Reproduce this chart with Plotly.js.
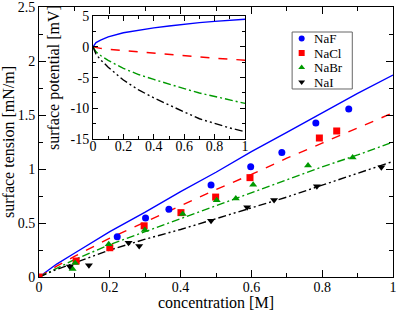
<!DOCTYPE html>
<html>
<head>
<meta charset="utf-8">
<script src="https://cdn.plot.ly/plotly-3.0.1.min.js"></script>
<style>html,body{margin:0;padding:0;background:#fff;}#chart{width:397px;height:311px;}</style>
</head>
<body>
<div id="chart"></div>
<script>
// Measured points (surface tension increment, mN/m) vs concentration (M)
const nafX = [0.221, 0.301, 0.367, 0.486, 0.598, 0.686, 0.782, 0.875];
const nafY = [0.373, 0.546, 0.627, 0.852, 1.02, 1.153, 1.427, 1.556];
const naclX = [0, 0.105, 0.2, 0.297, 0.401, 0.499, 0.596, 0.792, 0.841];
const naclY = [0, 0.148, 0.271, 0.474, 0.596, 0.740, 0.92, 1.287, 1.352];
const nabrX = [0.095, 0.102, 0.197, 0.299, 0.406, 0.502, 0.556, 0.605, 0.760, 0.886];
const nabrY = [0.075, 0.13, 0.303, 0.435, 0.583, 0.71, 0.728, 0.855, 1.032, 1.106];
const naiX = [0.087, 0.141, 0.253, 0.283, 0.486, 0.588, 0.664, 0.785, 0.967];
const naiY = [0.097, 0.108, 0.316, 0.287, 0.52, 0.645, 0.713, 0.84, 1.016];

// Theory curves, main panel
const curveX = [0, 0.02, 0.05, 0.1, 0.2, 0.3, 0.4, 0.5, 0.6, 0.7, 0.8, 0.9, 1];
const nafFit  = [0, 0.05, 0.12, 0.22, 0.42, 0.60, 0.79, 0.97, 1.16, 1.34, 1.52, 1.70, 1.87];
const naclFit = [0, 0.04, 0.10, 0.19, 0.36, 0.51, 0.66, 0.81, 0.95, 1.10, 1.24, 1.38, 1.52];
const nabrFit = [0, 0.035, 0.08, 0.16, 0.30, 0.42, 0.54, 0.66, 0.78, 0.90, 1.02, 1.13, 1.25];
const naiFit  = [0, 0.03, 0.07, 0.13, 0.25, 0.35, 0.44, 0.54, 0.64, 0.74, 0.85, 0.96, 1.07];

// Inset: surface potential (mV)
const insetX = [0, 0.02, 0.05, 0.1, 0.2, 0.3, 0.4, 0.5, 0.6, 0.7, 0.8, 0.9, 1];
const nafPot  = [0, 0.7, 1.1, 1.63, 2.3, 2.75, 3.1, 3.4, 3.7, 3.95, 4.15, 4.35, 4.5];
const naclPot = [0, -0.15, -0.25, -0.38, -0.6, -0.85, -1.05, -1.25, -1.45, -1.65, -1.85, -2.0, -2.17];
const nabrPot = [0, -0.8, -1.4, -2.2, -3.5, -4.5, -5.3, -6.1, -6.8, -7.5, -8.1, -8.7, -9.2];
const naiPot  = [0, -1.2, -2.1, -3.3, -5.4, -7.0, -8.3, -9.5, -10.6, -11.7, -12.5, -13.2, -13.8];

const names = ['NaF', 'NaCl', 'NaBr', 'NaI'];
const mainTickVals = [0, 0.5, 1, 1.5, 2, 2.5];
const mainTickText = ['0', '0.5', '1', '1.5', '2', '2.5'];
const insetYTickVals = [-15, -10, -5, 0, 5];
const insetYTickText = ['-15', '-10', '-5', '0', '5'];
const xTickVals = [0, 0.2, 0.4, 0.6, 0.8, 1];
const xTickText = ['0', '0.2', '0.4', '0.6', '0.8', '1'];

const colors = ['#0000ff', '#ff0000', '#009a00', '#000000'];
const dashes = ['solid', 'dash', '8px,3px,2px,3px', '8px,3px,2px,3px,2px,3px'];
const symbols = ['circle', 'square', 'triangle-up', 'triangle-down'];
const ptsX = [nafX, naclX, nabrX, naiX];
const ptsY = [nafY, naclY, nabrY, naiY];
const fits = [nafFit, naclFit, nabrFit, naiFit];
const pots = [nafPot, naclPot, nabrPot, naiPot];

const FONT = 'Liberation Serif, Times New Roman, serif';
const traces = [];
for (let i = 0; i < 4; i++) {
  traces.push({x: curveX, y: fits[i], type: 'scatter', mode: 'lines', showlegend: false,
    line: {color: colors[i], width: 1.4, dash: dashes[i]}, xaxis: 'x', yaxis: 'y'});
}
for (let i = 0; i < 4; i++) {
  traces.push({x: ptsX[i], y: ptsY[i], type: 'scatter', mode: 'markers', name: names[i], showlegend: false,
    marker: {color: colors[i], symbol: symbols[i], size: 7}, xaxis: 'x', yaxis: 'y'});
}
for (let i = 0; i < 4; i++) {
  traces.push({x: insetX, y: pots[i], type: 'scatter', mode: 'lines', showlegend: false,
    line: {color: colors[i], width: 1.4, dash: dashes[i]}, xaxis: 'x2', yaxis: 'y2'});
}

// Compact legend (box + symbols + labels), placed in plot-area fractions
const legX0 = 0.715, legX1 = 0.885, legY0 = 0.6963, legY1 = 0.9074;
const legSymX = 0.742, legTextX = 0.773;
const legRowY = [0.8833, 0.8296, 0.7759, 0.7222];
traces.push({x: legRowY.map(() => legSymX), y: legRowY, type: 'scatter', mode: 'markers',
  showlegend: false, xaxis: 'x3', yaxis: 'y3',
  marker: {color: colors, symbol: symbols, size: 6}});
const annotations = names.map((n, i) => ({
  text: n, xref: 'paper', yref: 'paper', x: legTextX, y: legRowY[i],
  xanchor: 'left', yanchor: 'middle', showarrow: false, borderpad: 0,
  font: {family: FONT, size: 13, color: '#000'}
}));

const axBase = {
  showgrid: false, zeroline: false, showline: true, linecolor: '#000', linewidth: 1,
  mirror: 'ticks', ticks: 'inside', ticklen: 7, tickwidth: 1, tickcolor: '#000',
  tickfont: {family: FONT, size: 14, color: '#000'}, automargin: false,
  ticklabeloverflow: 'allow'
};

const layout = {
  width: 397, height: 311,
  margin: {l: 39, r: 4, t: 7, b: 34, pad: 0},
  paper_bgcolor: '#fff', plot_bgcolor: '#fff',
  font: {family: FONT, color: '#000'},
  showlegend: false,
  annotations: annotations,
  shapes: [{type: 'rect', xref: 'paper', yref: 'paper', x0: legX0, x1: legX1, y0: legY0, y1: legY1,
    line: {color: '#666', width: 1}, fillcolor: '#fff', layer: 'below'}],
  xaxis: Object.assign({}, axBase, {range: [0, 1], domain: [0, 1], anchor: 'y',
    tickvals: xTickVals, ticktext: xTickText, ticklabelstandoff: -3,
    minor: {ticks: 'inside', tickvals: [0.1, 0.3, 0.5, 0.7, 0.9], ticklen: 4, tickcolor: '#000'},
    title: {text: 'concentration [M]', font: {family: FONT, size: 16}, standoff: 10}}),
  yaxis: Object.assign({}, axBase, {range: [0, 2.5], domain: [0, 1], anchor: 'x',
    tickvals: mainTickVals, ticktext: mainTickText,
    minor: {ticks: 'inside', tickvals: [0.25, 0.75, 1.25, 1.75, 2.25], ticklen: 4, tickcolor: '#000'},
    title: {text: 'surface tension [mN/m]', font: {family: FONT, size: 16}, standoff: 4}}),
  xaxis2: Object.assign({}, axBase, {range: [0, 1], domain: [0.1525, 0.582], anchor: 'y2',
    tickvals: xTickVals, ticktext: xTickText, ticklen: 5, ticklabelstandoff: -6,
    minor: {ticks: 'inside', tickvals: [0.1, 0.3, 0.5, 0.7, 0.9], ticklen: 3, tickcolor: '#000'}}),
  yaxis2: Object.assign({}, axBase, {range: [-15, 5], domain: [0.511, 0.966], anchor: 'x2',
    tickvals: insetYTickVals, ticktext: insetYTickText, ticklen: 5,
    minor: {ticks: 'inside', tickvals: [-12.5, -7.5, -2.5, 2.5], ticklen: 3, tickcolor: '#000'},
    title: {text: 'surface potential [mV]', font: {family: FONT, size: 16}, standoff: 6}}),
  xaxis3: {overlaying: 'x', range: [0, 1], visible: false, fixedrange: true},
  yaxis3: {overlaying: 'y', range: [0, 1], visible: false, fixedrange: true}
};

Plotly.newPlot('chart', traces, layout, {staticPlot: true, displayModeBar: false});
</script>
</body>
</html>
